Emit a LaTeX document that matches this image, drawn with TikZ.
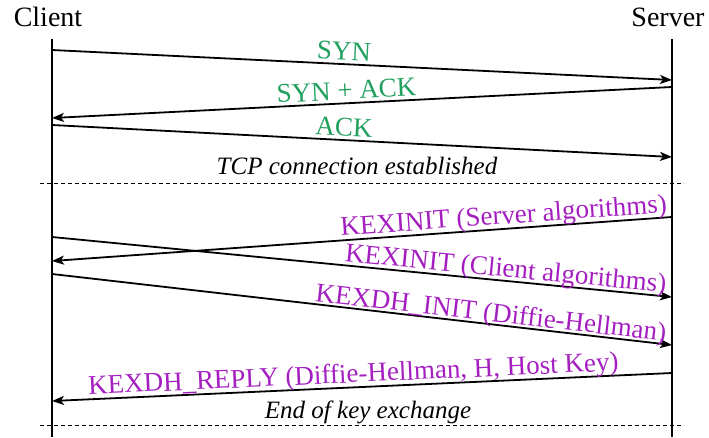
\documentclass[tikz,border=0pt]{standalone}
\usepackage{fontspec}
\setmainfont{Liberation Serif}
\usetikzlibrary{arrows.meta}
\definecolor{msggreen}{HTML}{22A05E}
\definecolor{msgpurple}{HTML}{A41EC0}
\tikzset{
  lifeline/.style={line width=2pt},
  msg/.style={line width=1.8pt, -{Stealth[length=12pt,width=9pt,inset=3pt]}},
  tcplabel/.style={sloped, anchor=south, inner sep=0pt, text depth=0pt, yshift=3pt, text=msggreen, font=\fontsize{27}{30}\selectfont},
  kexlabel/.style={sloped, anchor=south, inner sep=0pt, text depth=0pt, yshift=4pt, text=msgpurple, font=\fontsize{27}{30}\selectfont},
  actor/.style={anchor=base, inner sep=0pt, font=\fontsize{28}{32}\selectfont},
  note/.style={anchor=base, inner sep=0pt, font=\fontsize{25}{30}\selectfont\itshape},
  sep/.style={line width=0.8pt, dash pattern=on 4pt off 3pt}
}
\begin{document}
\begin{tikzpicture}[x=1pt,y=-1pt]
\useasboundingbox (0,0) rectangle (709,437);
% actors
\node[actor] (client) at (48,26) {Client};
\node[actor] (server) at (668,26) {Server};
% lifelines
\coordinate (ctop) at (52,39);
\coordinate (cbot) at (52,437);
\coordinate (stop) at (672,39);
\coordinate (sbot) at (672,437);
\draw[lifeline] (ctop) -- (cbot);
\draw[lifeline] (stop) -- (sbot);
% message endpoints
\coordinate (c1) at (52,50);   \coordinate (s1) at (672,80);
\coordinate (s2) at (672,87);  \coordinate (c2) at (52,118);
\coordinate (c3) at (52,125);  \coordinate (s3) at (672,157);
\coordinate (s4) at (672,217); \coordinate (c4) at (52,261);
\coordinate (c5) at (52,237);  \coordinate (s5) at (672,297);
\coordinate (c6) at (52,274);  \coordinate (s6) at (672,345);
\coordinate (s7) at (672,373); \coordinate (c7) at (52,401);
% TCP handshake
\draw[msg] (c1) -- node[tcplabel, pos=0.47] {SYN} (s1);
\draw[msg] (s2) -- node[tcplabel, pos=0.524] {SYN + ACK} (c2);
\draw[msg] (c3) -- node[tcplabel, pos=0.47] {ACK} (s3);
\node[note] (tcp) at (357,174) {TCP connection established};
\coordinate (d1a) at (40,183); \coordinate (d1b) at (684,183);
\draw[sep] (d1a) -- (d1b);
% key exchange
\draw[msg] (s4) -- node[kexlabel, pos=0.27] {KEXINIT (Server algorithms)} (c4);
\draw[msg] (c5) -- node[kexlabel, pos=0.73, yshift=-1pt] {KEXINIT (Client algorithms)} (s5);
\draw[msg] (c6) -- node[kexlabel, pos=0.706, yshift=-2pt] {KEXDH\_INIT (Diffie-Hellman)} (s6);
\draw[msg] (s7) -- node[kexlabel, pos=0.513] {KEXDH\_REPLY (Diffie-Hellman, H, Host Key)} (c7);
\node[note] (kex) at (368,418) {End of key exchange};
\coordinate (d2a) at (40,425); \coordinate (d2b) at (684,425);
\draw[sep] (d2a) -- (d2b);
\end{tikzpicture}
\end{document}
